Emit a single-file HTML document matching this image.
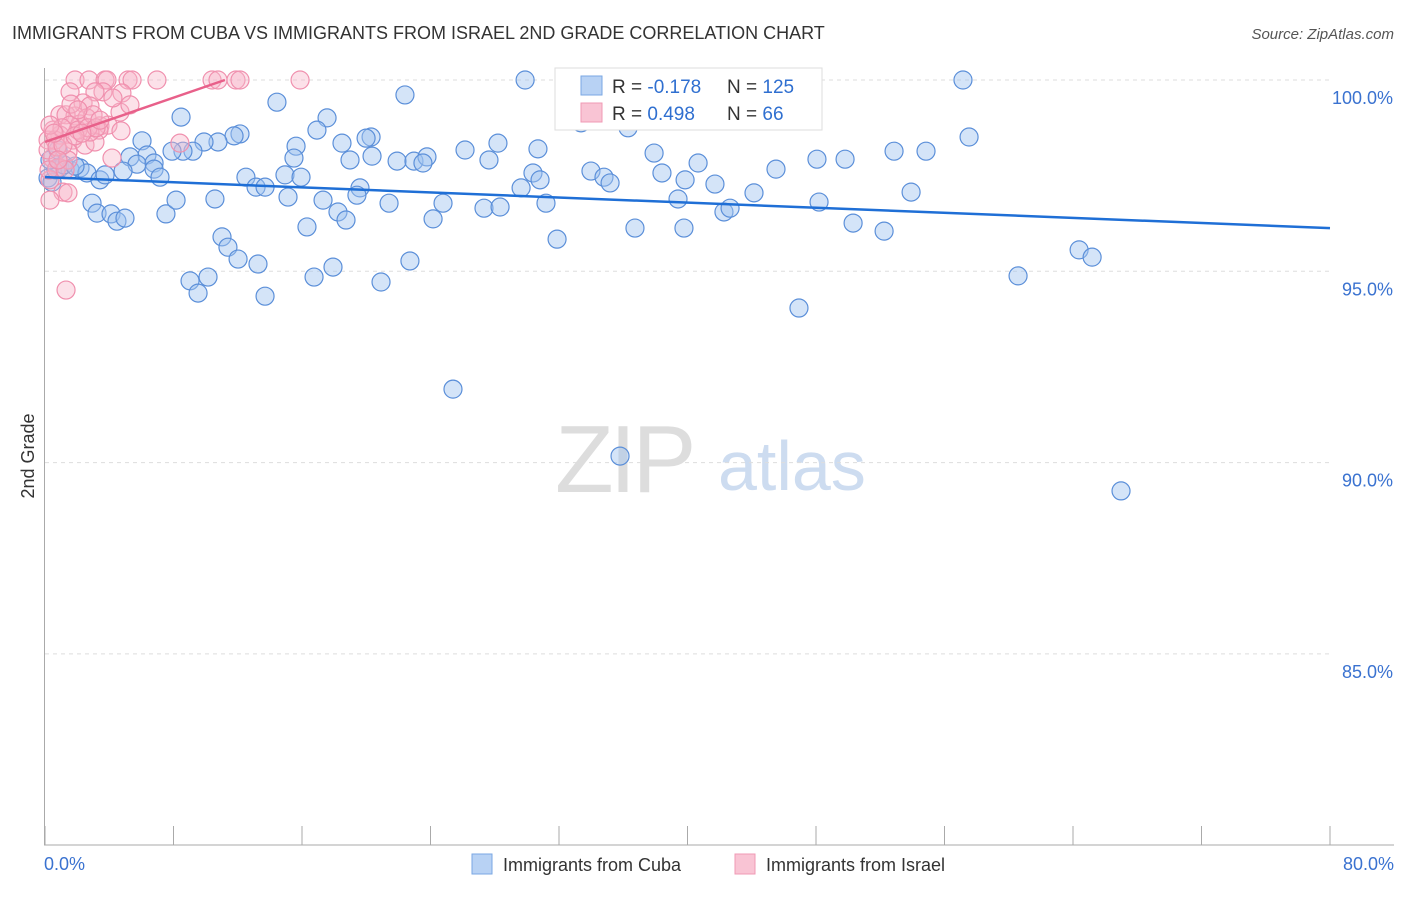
<!DOCTYPE html>
<html><head><meta charset="utf-8"><style>
body{margin:0;background:#fff;font-family:"Liberation Sans",sans-serif}
svg text{font-family:"Liberation Sans",sans-serif}
</style></head><body>
<svg id="chart" width="1406" height="892" xmlns="http://www.w3.org/2000/svg">
<text x="12" y="39" font-size="18" fill="#333">IMMIGRANTS FROM CUBA VS IMMIGRANTS FROM ISRAEL 2ND GRADE CORRELATION CHART</text>
<text x="1394" y="39" font-size="15" fill="#555" font-style="italic" text-anchor="end">Source: ZipAtlas.com</text>
<text transform="translate(34,456) rotate(-90)" font-size="18" fill="#333" text-anchor="middle">2nd Grade</text>
<g>
<text x="555" y="492" font-size="96" fill="#ddd" font-family="Liberation Serif,serif" letter-spacing="-4">ZIP</text>
<text x="718" y="490" font-size="70" fill="#cddcf0">atlas</text>
</g>
<g id="grid"></g><g id="axes"></g>
<g id="trends"></g>
<g id="pts"></g>
<g>
<rect x="555" y="68" width="267" height="62" fill="#fff" stroke="#ddd"/>
<rect x="581" y="76" width="21" height="19" fill="#b8d2f4" stroke="#7aa7e3"/>
<rect x="581" y="103" width="21" height="19" fill="#f9c4d4" stroke="#f09ab4"/>
<text x="612" y="93" font-size="19" fill="#333">R = <tspan fill="#2f6fd0">-0.178</tspan></text>
<text x="727" y="93" font-size="19" fill="#333">N = <tspan fill="#2f6fd0">125</tspan></text>
<text x="612" y="120" font-size="19" fill="#333">R = <tspan fill="#2f6fd0"> 0.498</tspan></text>
<text x="727" y="120" font-size="19" fill="#333">N = <tspan fill="#2f6fd0">  66</tspan></text>
</g>
<g>
<rect x="472" y="854" width="20" height="20" fill="#b8d2f4" stroke="#7aa7e3"/>
<text x="503" y="871" font-size="18" fill="#333">Immigrants from Cuba</text>
<rect x="735" y="854" width="20" height="20" fill="#f9c4d4" stroke="#f09ab4"/>
<text x="766" y="871" font-size="18" fill="#333">Immigrants from Israel</text>
</g>
</svg>
<script>
const cubaX=[29.89,57.15,22.41,14.44,8.47,17.56,33.37,36.3,16.93,57.53,12.14,11.77,10.77,9.9,20.3,19.99,6.04,15.63,28.2,18.49,9.21,8.59,7.91,6.35,5.29,15.5,18.99,20.36,21.92,22.97,23.78,23.53,26.15,27.64,30.69,37.92,40.66,45.51,48.06,49.81,52.86,54.85,33.99,38.41,34.8,35.18,30.38,30.82,29.64,39.85,41.71,44.14,53.92,5.73,6.79,6.79,0.93,1.56,2.18,2.61,3.42,3.74,4.86,7.16,12.51,13.14,13.7,14.94,15.94,19.61,19.42,15.13,17.31,21.42,24.78,27.33,28.33,31.19,39.41,42.27,42.65,48.19,2.93,3.24,4.11,4.48,4.98,7.53,8.16,10.58,16.31,18.24,18.74,24.16,36.73,39.78,50.31,52.24,31.88,11.02,11.39,12.02,13.26,17.93,22.72,16.75,20.92,9.03,10.15,9.53,13.7,64.38,65.19,60.58,46.94,25.4,35.8,66.99,0.19,0.44,0.68,1.18,1.87,0.31,0.81];
const cubaY=[100,100,99.61,99.42,99.03,99.01,98.88,98.75,98.69,98.51,98.59,98.54,98.38,98.38,98.51,98.48,98.41,98.27,98.35,98.35,98.14,98.14,98.14,98.04,97.99,97.96,97.91,98.01,97.88,97.88,97.99,97.83,98.17,97.91,98.2,98.09,97.83,97.67,97.93,97.93,98.14,98.14,97.62,97.57,97.46,97.31,97.57,97.39,97.18,97.39,97.28,97.05,97.07,97.8,97.83,97.67,97.7,97.65,97.7,97.57,97.39,97.52,97.62,97.46,97.46,97.2,97.2,97.52,97.46,97.18,96.99,96.94,96.86,96.78,96.78,96.65,96.68,96.78,96.89,96.55,96.65,96.81,96.78,96.52,96.5,96.31,96.39,96.5,96.86,96.89,96.16,96.55,96.34,96.37,96.13,96.13,96.26,96.05,95.84,95.9,95.63,95.32,95.19,95.11,95.27,94.85,94.72,94.75,94.85,94.43,94.35,95.56,95.37,94.88,94.04,91.92,90.17,89.26,97.44,97.33,97.65,97.78,97.75,97.91,98.17];
const israelX=[1.87,2.74,3.74,3.86,5.17,5.42,6.97,10.4,10.77,11.89,12.14,15.88,3.61,1.56,3.11,4.79,2.37,4.67,2.8,0.93,1.87,1.31,2.18,3.42,3.92,1.56,4.73,3.36,0.93,0.5,0.19,0.62,1.74,2.49,3.11,1.43,0.44,0.75,0.31,1.12,1.43,0.31,8.4,4.17,1.31,1.43,2.8,2.05,1.06,2.61,2.99,0.19,0.75,0.25,1.25,0.31,2.68,3.18,1.12,1.87,2.3,0.81,0.56,1.62,3.42,5.29,4.23,2.05];
const israelY=[100,100,100,100,100,100,100,100,100,100,100,100,99.69,99.69,99.69,99.66,99.4,99.16,99.32,99.09,99.06,99.09,98.85,98.8,98.82,98.82,98.67,98.69,98.56,98.69,98.43,98.43,98.43,98.3,98.38,98.12,97.96,97.7,97.39,97.07,97.05,96.86,98.35,97.96,94.51,97.91,98.64,98.69,98.75,99.01,99.09,98.17,98.25,97.65,97.65,98.82,98.75,98.75,98.3,98.54,98.61,97.91,98.61,99.37,98.95,99.35,99.53,99.22];
const yTicks=[100,95,90,85];
const yTickLabels=["100.0%","95.0%","90.0%","85.0%"];
const xTicks=[0,8,16,24,32,40,48,56,64,72,80];
const cubaTrend=[0,97.46,80,96.13];
const israelTrend=[0,98.38,11.2,100];

const NS="http://www.w3.org/2000/svg";
const X=v=>45+v/80*1285, Y=v=>80+(100-v)/5*191.3;
function mk(tag,at,parent){const e=document.createElementNS(NS,tag);for(const k in at)e.setAttribute(k,at[k]);document.getElementById(parent).appendChild(e);return e;}
yTicks.forEach((t,i)=>{
 const l=mk('line',{x1:45,x2:1330,y1:Y(t),y2:Y(t),stroke:'#ddd','stroke-dasharray':'4,4'},'grid');
 
 
 const tx=mk('text',{x:1393,y:Y(t)+24,'font-size':18,fill:'#3a72d0','text-anchor':'end'},'axes');
 tx.textContent=yTickLabels[i];
 
 
});
const ax=mk('line',{x1:44.5,x2:44.5,y1:68,y2:845,stroke:'#aaa'},'axes');


const bx=mk('line',{x1:44,x2:1394,y1:845,y2:845,stroke:'#aaa'},'axes');


xTicks.forEach(t=>{const l=mk('line',{x1:X(t),x2:X(t),y1:826,y2:845,stroke:'#aaa'},'axes');
 
 });
[[0,'start','0.0%'],[80,'end','80.0%']].forEach(a=>{const t=mk('text',{x:a[0]==0?44:1394,y:870,'font-size':18,fill:'#3a72d0','text-anchor':a[1]},'axes');t.textContent=a[2];
 
 });
cubaX.forEach((v,i)=>{const c=mk('circle',{cx:X(v),cy:Y(cubaY[i]),r:9,fill:'rgba(160,195,240,0.45)',stroke:'#5b8fd9','stroke-width':1.2},'pts');
 
 });
israelX.forEach((v,i)=>{const c=mk('circle',{cx:X(v),cy:Y(israelY[i]),r:9,fill:'rgba(248,180,200,0.4)',stroke:'#f090ae','stroke-width':1.2},'pts');
 
 });
const t1=mk('line',{x1:X(cubaTrend[0]),y1:Y(cubaTrend[1]),x2:X(cubaTrend[2]),y2:Y(cubaTrend[3]),stroke:'#1f6fd6','stroke-width':2.5},'pts');


const t2=mk('line',{x1:X(israelTrend[0]),y1:Y(israelTrend[1]),x2:X(israelTrend[2]),y2:Y(israelTrend[3]),stroke:'#e8608a','stroke-width':2.5},'pts');


</script>
</body></html>
